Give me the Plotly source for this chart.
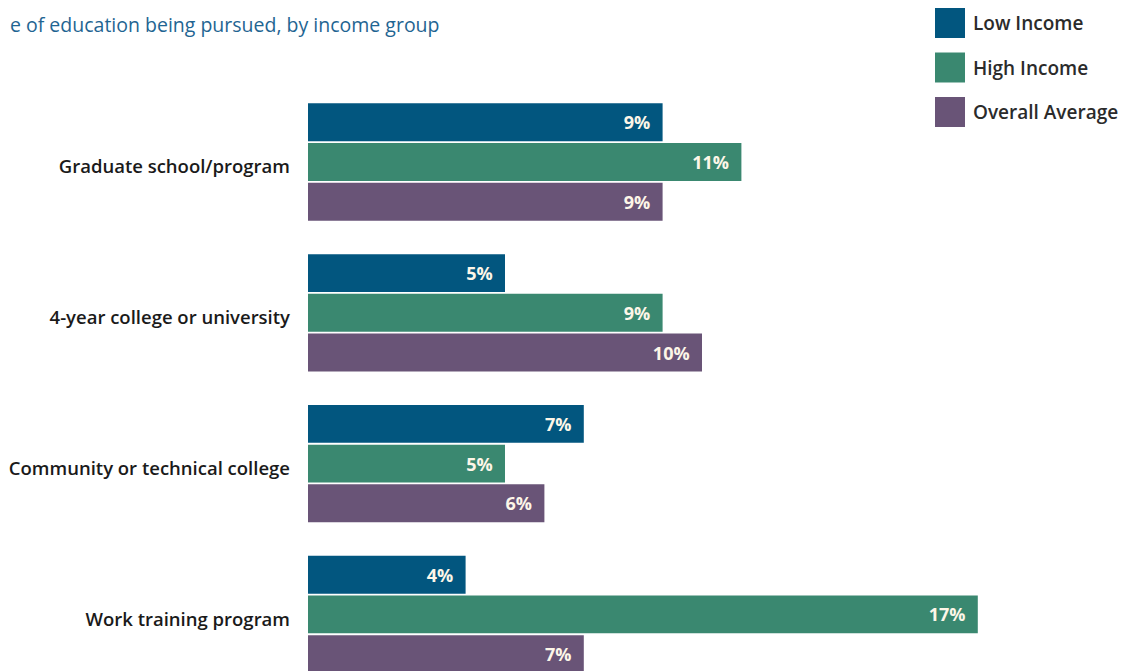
import plotly.graph_objects as go

categories = ["Graduate school/program", "4-year college or university",
              "Community or technical college", "Work training program"]
low_income = [9, 5, 7, 4]
high_income = [11, 9, 5, 17]
overall_avg = [9, 10, 6, 7]
series_names = ["Low Income", "High Income", "Overall Average"]
series_values = [low_income, high_income, overall_avg]
colors = ["#02567f", "#3a8870", "#695477"]
subtitle = "e of education being pursued, by income group"

W, H = 1127, 671
OFF = 8  # page body margin offset
ML = 308 - OFF
PX_PER_UNIT = 39.4
plot_w = W - ML

def px_x(p):
    return (p - OFF - ML) / plot_w

def px_y(p):
    return 1 - (p - OFF) / H

FONT = "Open Sans"
fig = go.Figure()
for name, vals, col in zip(series_names, series_values, colors):
    fig.add_trace(go.Bar(
        y=categories, x=vals, name=name, orientation="h",
        marker=dict(color=col, line=dict(width=0)),
        text=[f"{v}%\u00a0\u00a0" for v in vals],
        textposition="inside", insidetextanchor="end",
        textangle=0, constraintext="none",
        textfont=dict(family=FONT, size=18, color="#fdf6e8", weight="bold"),
        showlegend=False, hoverinfo="skip",
    ))

# custom legend
for i, (name, col) in enumerate(zip(series_names, colors)):
    top = 8 + i * 44.5
    fig.add_shape(type="rect", xref="paper", yref="paper",
                  x0=px_x(935), x1=px_x(965), y0=px_y(top + 30), y1=px_y(top),
                  fillcolor=col, line=dict(width=0))
    fig.add_annotation(xref="paper", yref="paper", x=px_x(971), y=px_y(top + 15),
                       xanchor="left", yanchor="middle", text=name, showarrow=False,
                       font=dict(family=FONT, size=19, color="#2b2b2b", weight=600))

fig.add_annotation(xref="paper", yref="paper", x=px_x(OFF), y=px_y(25),
                   xanchor="left", yanchor="middle", text=subtitle, showarrow=False,
                   font=dict(family=FONT, size=19.5, color="#1f6592"))

y_center0 = 162 - OFF
step = 150.8
fig.update_layout(
    width=W, height=H,
    margin=dict(l=ML, r=0, t=0, b=0),
    paper_bgcolor="white", plot_bgcolor="white",
    barmode="group", bargap=0.21, bargroupgap=0.045,
    xaxis=dict(visible=False, range=[0, plot_w / PX_PER_UNIT], fixedrange=True),
    yaxis=dict(
        categoryorder="array", categoryarray=categories,
        range=[(H - y_center0) / step, (0 - y_center0) / step],
        showgrid=False, zeroline=False, showline=False, ticks="",
        ticklabelstandoff=17, ticklabelshift=-5,
        tickfont=dict(family=FONT, size=18.5, color="#1a1a1a", weight=600),
    ),
)
fig.write_html("out.html")
